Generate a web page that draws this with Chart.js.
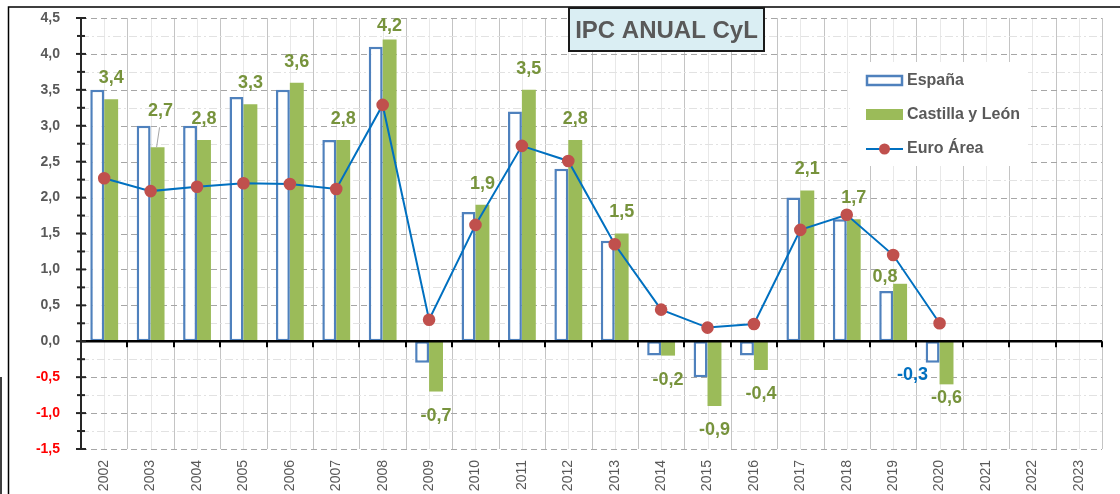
<!DOCTYPE html>
<html>
<head>
<meta charset="utf-8">
<script src="https://cdn.jsdelivr.net/npm/chart.js@4.4.1/dist/chart.umd.min.js"></script>
<style>
body { margin: 0; background: #fff; }
canvas { display: block; }
</style>
</head>
<body>
<canvas id="ipc" width="1120" height="494"></canvas>
<script>
// datos
var years = ['2002','2003','2004','2005','2006','2007','2008','2009','2010','2011','2012',
             '2013','2014','2015','2016','2017','2018','2019','2020','2021','2022','2023'];
var espana   = [3.5, 3.0, 3.0, 3.4, 3.5, 2.8, 4.1, -0.3, 1.8, 3.2, 2.4, 1.4, -0.2, -0.5, -0.2, 2.0, 1.7, 0.7, -0.3, null, null, null];
var castilla = [3.37, 2.7, 2.8, 3.3, 3.6, 2.8, 4.2, -0.7, 1.9, 3.5, 2.8, 1.5, -0.2, -0.9, -0.4, 2.1, 1.7, 0.8, -0.6, null, null, null];
var euroArea = [2.27, 2.09, 2.15, 2.20, 2.19, 2.12, 3.29, 0.30, 1.62, 2.72, 2.51, 1.35, 0.44, 0.19, 0.24, 1.55, 1.76, 1.20, 0.25, null, null, null];
var yTicks = [-1.5, -1.0, -0.5, 0, 0.5, 1.0, 1.5, 2.0, 2.5, 3.0, 3.5, 4.0, 4.5];

// colores
var C_ESP = '#4F81BD', C_CYL = '#9BBB59', C_EURO = '#0070C0', C_DOT = '#C0504D';
var C_TXT = '#595959', C_LBL = '#77933C';
var FONT = '"Liberation Sans", Arial, sans-serif';

// desplazamientos manuales de etiquetas (como en Excel)
var cylNudge = { 1: [3, -15], 6: [0, 7], 17: [-15, 14], 18: [0, -10] };
var espLabelled = { 18: [-20, 12] };

function fmt(v) { return v.toFixed(1).replace('.', ','); }

function noPad(s) { s.paddingTop = 0; s.paddingBottom = 0; s.paddingLeft = 0; s.paddingRight = 0; }

var excelLook = {
	id: 'excelLook',
	beforeDraw: function (chart) {
		var ctx = chart.ctx;
		ctx.save();
		ctx.fillStyle = '#fff';
		ctx.fillRect(0, 0, chart.width, chart.height);
		ctx.strokeStyle = '#000';
		ctx.lineWidth = 1.5;
		ctx.strokeRect(8.5, 7, chart.width + 10, chart.height + 10);
		ctx.beginPath();
		ctx.moveTo(1, 377); ctx.lineTo(1, chart.height);
		ctx.stroke();
		ctx.restore();
	},
	beforeDatasetsDraw: function (chart) {
		var ctx = chart.ctx, a = chart.chartArea, xs = chart.scales.x, ys = chart.scales.y;
		var n = years.length, w = (a.right - a.left) / n;
		ctx.save();
		ctx.lineWidth = 1;
		// lineas verticales
		for (var i = 0; i < n; i++) {
			var c = Math.round(xs.getPixelForValue(i)) + 0.5;
			ctx.strokeStyle = '#E8E8E8';
			ctx.beginPath(); ctx.moveTo(c, a.top); ctx.lineTo(c, a.bottom); ctx.stroke();
			var b = Math.round(xs.getPixelForValue(i) + w / 2) + 0.5;
			ctx.strokeStyle = '#C4C4C4';
			ctx.beginPath(); ctx.moveTo(b, a.top); ctx.lineTo(b, a.bottom); ctx.stroke();
		}
		// secundarias horizontales
		ctx.strokeStyle = '#E2E2E2';
		ctx.setLineDash([8, 3, 2, 3]);
		for (var k = 0; k < yTicks.length - 1; k++) {
			var ym = Math.round(ys.getPixelForValue((yTicks[k] + yTicks[k + 1]) / 2)) + 0.5;
			ctx.beginPath(); ctx.moveTo(a.left, ym); ctx.lineTo(a.right, ym); ctx.stroke();
		}
		// principales horizontales
		ctx.strokeStyle = '#A6A6A6';
		ctx.setLineDash([6, 4]);
		yTicks.forEach(function (v) {
			var yy = Math.round(ys.getPixelForValue(v)) + 0.5;
			ctx.beginPath(); ctx.moveTo(a.left, yy); ctx.lineTo(a.right, yy); ctx.stroke();
		});
		ctx.restore();
	},
	afterDatasetsDraw: function (chart) {
		var ctx = chart.ctx, a = chart.chartArea, xs = chart.scales.x, ys = chart.scales.y;
		var n = years.length, w = (a.right - a.left) / n;
		var y0 = ys.getPixelForValue(0);
		ctx.save();
		// eje X (linea del cero)
		ctx.strokeStyle = '#000';
		ctx.lineWidth = 2.5;
		ctx.beginPath(); ctx.moveTo(a.left, y0); ctx.lineTo(a.right, y0); ctx.stroke();
		ctx.lineWidth = 2;
		for (var i = 0; i <= n; i++) {
			var bx = Math.round(a.left + i * w);
			ctx.beginPath(); ctx.moveTo(bx, y0); ctx.lineTo(bx, y0 + 6); ctx.stroke();
		}
		// eje Y
		ctx.strokeStyle = '#262626';
		ctx.lineWidth = 2;
		ctx.beginPath(); ctx.moveTo(a.left, a.top); ctx.lineTo(a.left, a.bottom); ctx.stroke();
		for (var k = 0; k < yTicks.length; k++) {
			var yy = ys.getPixelForValue(yTicks[k]);
			ctx.beginPath(); ctx.moveTo(a.left - 5, yy); ctx.lineTo(a.left + 5, yy); ctx.stroke();
			if (k < yTicks.length - 1) {
				var ym = ys.getPixelForValue((yTicks[k] + yTicks[k + 1]) / 2);
				ctx.beginPath(); ctx.moveTo(a.left - 4, ym); ctx.lineTo(a.left + 4, ym); ctx.stroke();
			}
		}
		// etiquetas de datos
		ctx.font = 'bold 18px ' + FONT;
		ctx.textAlign = 'center';
		ctx.textBaseline = 'middle';
		var cyl = chart.getDatasetMeta(1).data;
		castilla.forEach(function (v, i) {
			if (v === null) return;
			var bar = cyl[i], d = cylNudge[i] || [0, 0];
			var lx = bar.x + d[0];
			var ly = (v >= 0 ? bar.y - 21 : bar.y + 24) + d[1];
			if (i === 1) {
				ctx.strokeStyle = '#A6A6A6'; ctx.lineWidth = 1;
				ctx.beginPath(); ctx.moveTo(lx - 1, ly + 16); ctx.lineTo(bar.x - 1, bar.y); ctx.stroke();
			}
			ctx.fillStyle = C_LBL;
			ctx.fillText(fmt(v), lx, ly);
		});
		var esp = chart.getDatasetMeta(0).data;
		Object.keys(espLabelled).forEach(function (key) {
			var i = +key, d = espLabelled[key], bar = esp[i];
			ctx.fillStyle = C_EURO;
			ctx.fillText(fmt(espana[i]), bar.x + d[0], bar.y + d[1]);
		});
		ctx.restore();
	},
	afterDraw: function (chart) {
		var ctx = chart.ctx;
		ctx.save();
		// titulo
		ctx.fillStyle = '#DAEEF3';
		ctx.fillRect(569, 8, 195, 43);
		ctx.strokeStyle = '#1A1A1A';
		ctx.lineWidth = 2;
		ctx.strokeRect(569, 8, 195, 43);
		ctx.fillStyle = C_TXT;
		ctx.font = 'bold 24px ' + FONT;
		ctx.textAlign = 'center';
		ctx.textBaseline = 'middle';
		ctx.fillText('IPC ANUAL CyL', 666.5, 31);
		// leyenda
		ctx.fillStyle = '#fff';
		ctx.fillRect(850, 62, 178, 104);
		var ds = chart.data.datasets;
		ctx.fillStyle = '#fff';
		ctx.strokeStyle = C_ESP; ctx.lineWidth = 2.5;
		ctx.fillRect(867, 76, 35, 9); ctx.strokeRect(867, 76, 35, 9);
		ctx.fillStyle = C_CYL;
		ctx.fillRect(866, 109, 37, 11);
		ctx.strokeStyle = C_EURO; ctx.lineWidth = 2;
		ctx.beginPath(); ctx.moveTo(866, 149); ctx.lineTo(903, 149); ctx.stroke();
		ctx.fillStyle = C_DOT;
		ctx.beginPath(); ctx.arc(884.5, 149, 5.5, 0, Math.PI * 2); ctx.fill();
		ctx.fillStyle = C_TXT;
		ctx.font = 'bold 16px ' + FONT;
		ctx.textAlign = 'left';
		ctx.fillText(ds[0].label, 907, 81);
		ctx.fillText(ds[1].label, 907, 115);
		ctx.fillText(ds[2].label, 907, 149);
		ctx.restore();
	}
};

var ctxIpc = document.getElementById('ipc');
var chart = new Chart(ctxIpc, {
	type: 'bar',
	data: {
		labels: years,
		datasets: [{
			label: 'España',
			data: espana,
			backgroundColor: '#fff',
			borderColor: C_ESP,
			borderWidth: 2.5,
			borderSkipped: false,
			categoryPercentage: 0.6,
			barPercentage: 1.0,
			order: 1
		}, {
			label: 'Castilla y León',
			data: castilla,
			backgroundColor: C_CYL,
			borderWidth: 0,
			categoryPercentage: 0.6,
			barPercentage: 1.0,
			order: 1
		}, {
			type: 'line',
			label: 'Euro Área',
			data: euroArea,
			borderColor: C_EURO,
			borderWidth: 2,
			pointBackgroundColor: C_DOT,
			pointBorderColor: C_DOT,
			pointRadius: 5.3,
			tension: 0,
			order: 0
		}]
	},
	options: {
		responsive: false,
		animation: false,
		devicePixelRatio: 1,
		layout: { padding: { left: 0, top: 18, right: 18, bottom: 0 } },
		plugins: {
			legend: { display: false },
			title: { display: false },
			tooltip: { enabled: false }
		},
		scales: {
			x: {
				grid: { display: false, drawTicks: false },
				border: { display: false },
				ticks: {
					autoSkip: false,
					minRotation: 90,
					maxRotation: 90,
					padding: 11,
					color: C_TXT,
					font: { family: FONT, size: 14 }
				},
				afterFit: function (s) { s.height = 45; noPad(s); }
			},
			y: {
				min: yTicks[0],
				max: yTicks[yTicks.length - 1],
				grid: { display: false, drawTicks: false },
				border: { display: false },
				afterBuildTicks: function (s) {
					s.ticks = yTicks.map(function (v) { return { value: v }; });
				},
				ticks: {
					padding: 21,
					font: { family: FONT, size: 14, weight: 'bold' },
					color: function (c) { return c.tick.value < 0 ? '#FF0000' : C_TXT; },
					callback: function (v) { return fmt(v); }
				},
				afterFit: function (s) { s.width = 81; noPad(s); }
			}
		}
	},
	plugins: [excelLook]
});
</script>
</body>
</html>
